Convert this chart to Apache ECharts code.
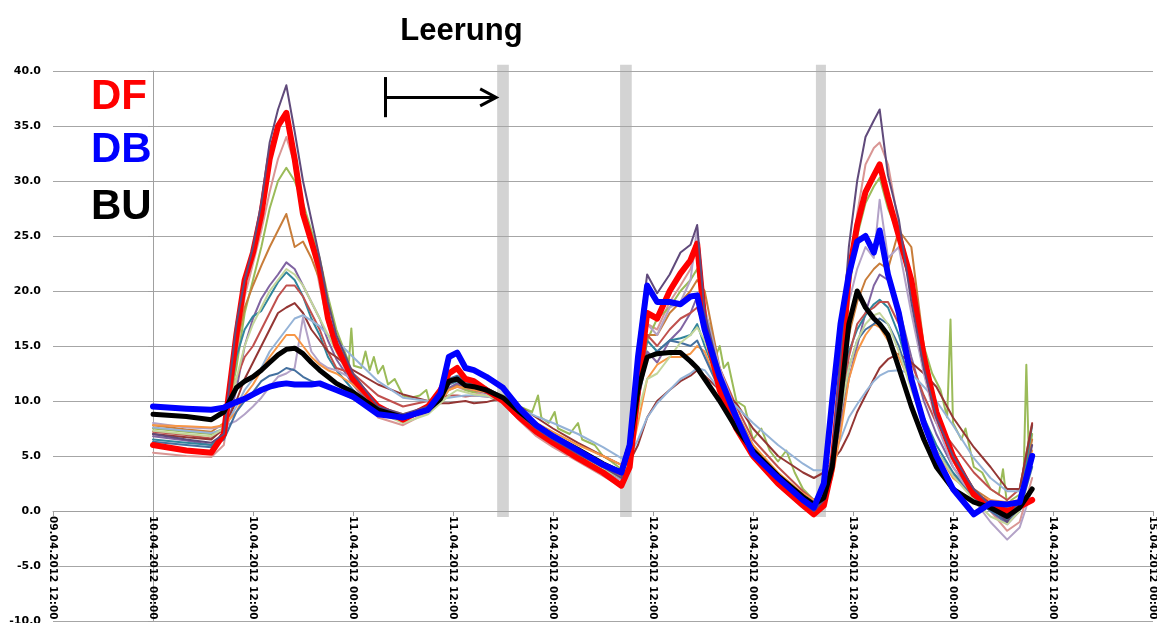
<!DOCTYPE html>
<html><head><meta charset="utf-8">
<script src="https://cdn.jsdelivr.net/npm/echarts@6/dist/echarts.min.js"></script>
<style>html,body{margin:0;padding:0;background:#fff}#c{width:1157px;height:623px}</style>
</head><body><div id="c"></div>
<script>
// x tick labels (every 12 h, starting 09.04.2012 12:00 = -12 h from 10.04.2012 00:00)
const xTickLabels = ['09.04.2012 12:00','10.04.2012 00:00','10.04.2012 12:00','11.04.2012 00:00','11.04.2012 12:00','12.04.2012 00:00','12.04.2012 12:00','13.04.2012 00:00','13.04.2012 12:00','14.04.2012 00:00','14.04.2012 12:00','15.04.2012 00:00'];
// hours since 10.04.2012 00:00
const hours = [0,4,7,8.5,10,11,12,13,14,15,16,17,18,19,20,21,22,24,27,30,33,34.5,35.5,36.5,37.5,38.5,40,42,44,46,48,51,54,56.2,57.2,58.2,59.3,60.5,62,63.3,64.5,65.3,66.2,68,70,72,75,78,79.3,80.5,81.5,82.5,83.5,84.5,85.5,86.5,87.2,88.2,89.5,91,92.5,94,96,98.5,100.5,102.5,104,105.5];

const valDF = [6.0,5.5,5.3,7,16,21,23.5,27,32,35,36.2,32,27,24.5,22,17.5,15,12,9.5,8.3,9.5,11,12.5,13,12,11.8,11,10,8.5,7.2,6.2,4.8,3.5,2.3,4,11,18,17.5,20,21.6,22.8,24.3,17,11,7.5,5,2.5,0.5,-0.3,0.5,4,12,21.5,26,29,30.5,31.5,28.5,25,21,14,9,5,1.5,0.5,0,0.4,1];
const valDB = [9.5,9.3,9.2,9.4,9.9,10.2,10.6,11.0,11.3,11.5,11.6,11.5,11.5,11.5,11.6,11.3,11.0,10.4,8.8,8.5,9.2,10.7,14,14.4,13,12.8,12.2,11.2,9.3,7.8,6.8,5.5,4.2,3.5,6,14,20.5,19,19,18.8,19.5,19.6,16.5,12.2,8.5,5.2,3,1,0.3,2.5,10,17,21.5,24.5,25,23.5,25.5,21.5,18,12,8,5,2,-0.3,0.7,0.6,0.8,5];
const valBU = [8.8,8.6,8.3,9.0,11.2,11.8,12.2,12.8,13.5,14.2,14.7,14.8,14.3,13.5,12.8,12.2,11.6,10.8,9.2,8.5,9.2,10.2,11.8,12,11.4,11.3,11,10.3,9,7.8,6.8,5.6,4.3,3.5,6,11,14,14.3,14.4,14.4,13.6,13,12,10,7.5,5.5,3.2,1.3,0.6,1.2,4,10,17,20,18.5,17.5,17,16,13,9.5,6.5,4,2,0.8,0.3,-0.5,0.3,2];
const valP1 = [7.0,6.5,6.2,7,17,21,24,28,33.5,36.5,38.7,34.5,30,26.5,23,19,16,12.5,9.5,8.8,9.5,10.5,11.5,12,11.5,11.2,11,10.3,8.8,7.5,6.5,5.2,4,3,6,15,21.5,19.8,21.5,23.5,24.2,26,18,12.5,8.5,5.5,3,0.8,0,1,5,14,24,30,34,35.5,36.5,30.5,26.5,19,13,8.5,5,2,0.5,-1,1,6];
const valP2 = [5.3,5.0,4.9,6,14,19.5,22.5,25.5,29,32,34,31.5,27.5,24.5,20.5,17,14.5,11.5,8.5,7.8,9,10.2,11,11.3,11,10.8,10.5,9.8,8.2,6.8,5.8,4.5,3.2,2.2,4,10,17,16.5,19,20.5,22,24,16.5,11.5,7.5,4.8,2.3,0.3,-0.3,0.3,4,12,21,27,31.5,33,33.5,31.5,26,21,14,9,4.5,1.5,0,-1.8,-1,3];
const valO1 = [7.8,7.4,7.2,8,15,18.5,20.5,22.3,24,25.5,27,24,24.5,23,21,18,15.5,12.5,9.2,8.6,9.3,10,11,11.5,11.2,11,10.8,10.2,8.8,7.5,6.6,5.3,4.2,3.3,5,11,16,16,18,19,20,21,20,13,9,6,3.3,1.2,0.5,1,4,10,16,19,21,22,22.5,22,25.5,24,15,9,5,2,1,0.3,1,6.5];
const valPu2 = [6.8,6.4,6.0,6.5,11,15,17.5,19.3,20.5,21.5,22.6,22,20.5,19,17.5,15.5,13.8,11.5,9,8.3,9.2,10,11.2,11.6,11.2,11,10.7,10.2,8.6,7.2,6.2,5,3.8,2.8,4.5,10,14.5,13.5,15.5,16.5,18,19.5,17,12.5,8.5,5.5,3,0.8,0,0.8,3.5,8,12,15,18,20.5,21.5,21,18.5,14,10,7,4,1.5,0,-1.2,0,4.5];
const valTeal = [6.5,6.2,6.0,7,14,16.5,17.7,18.2,19.5,20.8,21.7,21,19.5,17.5,16,14,12.8,11,8.8,8.2,9.2,10.2,11.5,11.8,11.5,11.2,11,10.3,8.8,7.4,6.4,5.2,4,3,5,11,15.5,14.5,15.5,15.7,16,17,15,11.5,8,5.2,3,1,0.3,1.2,5,11,14.5,16.5,17.8,18.8,19.2,18.5,16,12,8.5,6,3.5,1.3,0.2,-0.8,0.5,7.8];
const valDRa = [7.2,6.9,6.6,7.5,12,14,15,16.5,18,19.5,20.5,20.5,19.5,18,16.5,14.5,13,12.5,10.5,9.5,10,10.3,10.5,10.5,10.4,10.5,10.4,10.2,8.5,7.3,6.3,5,3.8,3.2,4.8,10,16,15,16.5,17.5,18,18.5,16.5,13,9.5,6.5,4,1.8,1,1.5,5,9,14,17,18,18.5,19,19,17,13.5,10.5,8,6,3.5,2,1,2,8];
const valDRb = [7.0,6.7,6.5,7.5,10,12,13.5,15,16.5,18,18.5,18.9,18,16.5,15.5,14.5,14,12.8,11.5,10.6,10,9.8,9.8,9.9,10,9.8,9.9,10.3,9.5,8.5,7.5,6.2,5,4.2,4.5,6,8.5,10,11,11.8,12.3,12.8,12.3,11,9.8,7.5,5,3.5,3,3.5,4.5,5.5,7,9,10.5,12,13,13.8,14.3,13.5,12.5,11.3,8.5,5.8,4,2,2,7.9];
const valLB = [7.6,7.3,7.1,7.4,9.5,11,12,13,14.5,15.5,16.5,17.5,17.8,17.3,16.8,16,15.5,14,11.8,10.3,10,10.2,10.3,10.4,10.5,10.5,10.4,10.2,9.3,8.6,8,7,5.8,4.8,5,6.5,8.5,9.8,11,12,12.5,13,12.8,11,9.5,8,6,4.3,3.7,3.7,5,6.5,8.5,9.7,10.8,11.8,12.3,12.7,12.8,12.5,11.3,10,7.8,4.8,3,1.8,1.8,4];
const valLav = [8.0,7.6,7.5,7.7,8.2,8.8,9.5,10.3,11.3,12.2,12.5,13,17.6,14.5,13.5,13,12.8,12,9.5,8.3,9.5,10.2,11.5,12,11.8,11.5,11.2,10.4,8.6,7.2,6.3,5,3.8,2.8,5,12,17,16,18.5,19,21,25.8,18.5,13,9,5.5,3,0.8,0.2,1.5,5,13,19,22,24,23,28.3,23,24,18,12.5,8,4,1,-1,-2.6,-1.5,2];
const valOrange = [7.8,7.7,7.6,7.8,9,10.5,11.5,12.8,14,15,16,16,15,14,13.3,12.8,12.5,11.5,9.5,8.8,9.3,10,11,11.3,11.2,11,10.8,10.3,9,8,7.2,6,5,4.2,4.5,8,12,13.3,14,14,14.3,15,14.5,11,8.5,6,3.5,1.6,1,1.2,3,7,12,14.5,16,17,16.7,15.5,14,11.5,8,5.5,3,1.5,1,0.8,1,5.5];
const valSteel = [6.3,6.0,5.8,6.5,9,10,10.8,11.8,12.3,12.5,13,12.8,12.2,11.8,11.6,11.3,11,10.2,8.8,8.3,9.3,10.5,12,12.3,11.8,11.5,11.2,10.4,8.7,7.3,6.3,5,3.8,3,5,10,14,14.5,15.5,15.3,15,15.5,14,11,8,5.3,3,1,0.3,1,4,9,13,15.5,16.5,17,17.5,17,15,11.5,8,5.5,3.3,1.2,0,-1,0,4];
const valLG = [7.3,7.0,6.8,7.5,12,15,17,18.5,20,21,22,21.5,20.5,19,17.5,16,14.5,12,9,8,8.8,9.8,10.5,11,10.8,10.6,10.5,10,8.5,7.2,6.3,5,3.8,3,4.5,9,12,12.5,14,15.3,16,16.7,15.5,11.5,8.3,5.5,3.2,1.2,0.5,1,4,9,13,15.5,17,17.8,18,17,14.5,11,8,5.5,3.2,1,-0.5,-1.2,0,5];
// green sensor has its own (denser) sampling because of its spikes
const greenHours = [0,4,7,8.5,10,11,12,13,14,15,16,17,18,19,20,21,22,23.5,23.8,24.1,25,25.5,26,26.5,27,27.6,28.2,29,30,31,32,32.8,33.3,34.5,35.5,36.5,37.5,38.5,40,42,44,45.5,46.2,46.6,47.5,48.2,48.6,50,51,51.5,53,54,55,56.2,57.2,58.2,59.3,60.5,62,63.3,64.5,65.3,66.2,67,67.5,68,68.5,69,70,71,72,73,74,75,76,77,78,79.3,80.5,81.5,82.5,83.5,84.5,85.5,86.5,87.2,88.2,89.5,91,92.5,93.5,94.5,95.3,95.7,96,97,97.5,98.5,99.5,100.5,101.5,102,102.5,103,104,104.5,104.8,105.1,105.5];
const greenValues = [7.5,7.2,7.0,7.5,13,18,21,24,27.5,30,31.2,30,28,25.5,23,19.5,16.5,13.5,16.6,13.2,13,14.5,12.8,14,12.5,13.2,11.5,12,10.5,10.3,10.5,11,9.6,10,11,11.5,11,10.8,11,10.5,9.5,9,10.5,8.5,8,9,7.5,7,8,6.5,6,5,4.5,3.8,5,10,15.5,17.5,18.5,20,21,22,18,16.5,14,15,13,13.5,10,9.5,6.5,7.5,5.5,4.5,5.5,3.5,2,1,1.5,5,12,20,25,28,29.5,30.3,27.5,25,20,15,12.5,11,8.5,17.4,8,6.5,7.5,4,3.5,2,1.5,3.8,0.5,1,1.5,4,13.3,5,7];

// grey "Leerung" bands, hours since 10.04.2012 00:00
const bandStart = [41.3, 56.05, 79.55];
const bandEnd = [42.7, 57.45, 80.75];

const Y_MIN = -10, Y_MAX = 40;
const GRID = { left: 53, right: 4, top: 71, bottom: 2 };
const CH = 623;

const thin = [
  ['P2', valP2, '#D99694'],
  ['O1', valO1, '#C87D3A'],
  ['Pu2', valPu2, '#8064A2'],
  ['Teal', valTeal, '#31859C'],
  ['DRa', valDRa, '#C0504D'],
  ['DRb', valDRb, '#943634'],
  ['LB', valLB, '#95B3D7'],
  ['Lav', valLav, '#B3A2C7'],
  ['Orange', valOrange, '#F79646'],
  ['Steel', valSteel, '#44709F'],
  ['LG', valLG, '#C3D69B']
];
const pairs = (hs, vs) => hs.map((h, i) => [h, vs[i]]);
const mk = (name, data, color, width) => ({
  name, type: 'line', data, showSymbol: false, symbol: 'none', smooth: false,
  lineStyle: { color, width, cap: 'round', join: 'round' }, itemStyle: { color },
  animation: false, silent: true
});
const series = [];
thin.forEach(([n, v, c]) => series.push(mk(n, pairs(hours, v), c, 2)));
series.splice(1, 0, mk('G', pairs(greenHours, greenValues), '#9BBB59', 2));
series.push(mk('DF', pairs(hours, valDF), '#FF0000', 6));
series.push(mk('P1', pairs(hours, valP1), '#604A7B', 2));
series.push(mk('BU', pairs(hours, valBU), '#000000', 5));
series.push(mk('DB', pairs(hours, valDB), '#0000FF', 6));

// x axis sits at y = 0: shift it up from the grid bottom by the height of the [-10, 0] span
const gridH = CH - GRID.top - GRID.bottom;
const xOffset = -(0 - Y_MIN) / (Y_MAX - Y_MIN) * gridH;

const labelFont = { fontFamily: 'DejaVu Sans', fontWeight: 'bold', color: '#000' };
const option = {
  animation: false,
  backgroundColor: '#fff',
  grid: Object.assign({ containLabel: false, outerBoundsMode: 'none' }, GRID),
  xAxis: {
    type: 'value', min: -12, max: 120, interval: 12, offset: xOffset,
    axisLine: { show: true, onZero: false, lineStyle: { color: '#A0A0A0', width: 1 } },
    axisTick: { show: true, length: 5, lineStyle: { color: '#A0A0A0' } },
    splitLine: { show: false },
    axisLabel: Object.assign({ rotate: -90, fontSize: 10.5, margin: 5, showMinLabel: true, showMaxLabel: true,
      hideOverlap: false, formatter: v => xTickLabels[Math.round((v + 12) / 12)] || '' }, labelFont)
  },
  yAxis: {
    type: 'value', min: Y_MIN, max: Y_MAX, interval: 5,
    axisLine: { show: true, lineStyle: { color: '#A0A0A0', width: 1 } },
    axisTick: { show: true, length: 5, lineStyle: { color: '#A0A0A0' } },
    splitLine: { show: true, lineStyle: { color: '#A6A6A6', width: 1 } },
    axisLabel: Object.assign({ fontSize: 11, margin: 12, showMinLabel: true, showMaxLabel: true, formatter: v => v.toFixed(1) }, labelFont)
  },
  series
};
const chart = echarts.init(document.getElementById('c'));
chart.setOption(option);

const px = (h, v) => chart.convertToPixel({ gridIndex: 0 }, [h, v]);
const graphics = [];
bandStart.forEach((s, i) => {
  const a = px(s, 40.57), b = px(bandEnd[i], -0.55);
  graphics.push({ type: 'rect', z: -1, silent: true,
    shape: { x: a[0], y: a[1], width: b[0] - a[0], height: b[1] - a[1] },
    style: { fill: '#D3D3D3' } });
});
const aStart = px(27.9, 37.6), aEnd = px(bandStart[0], 37.6);
const barTop = px(27.9, 39.45), barBot = px(27.9, 35.8);
graphics.push({ type: 'line', z: 10, shape: { x1: aStart[0], y1: aStart[1], x2: aEnd[0] - 2, y2: aEnd[1] }, style: { stroke: '#000', lineWidth: 3 } });
graphics.push({ type: 'line', z: 10, shape: { x1: barTop[0], y1: barTop[1], x2: barBot[0], y2: barBot[1] }, style: { stroke: '#000', lineWidth: 3 } });
graphics.push({ type: 'polyline', z: 10, shape: { points: [[aEnd[0] - 17, aEnd[1] - 8.5], [aEnd[0] - 1, aEnd[1]], [aEnd[0] - 17, aEnd[1] + 8.5]] }, style: { stroke: '#000', lineWidth: 3, fill: null, lineJoin: 'miter' } });
graphics.push({ type: 'text', z: 10, x: 461.5, y: 31, style: { text: 'Leerung', font: 'bold 31px "Liberation Sans", Arial, sans-serif', fill: '#000', textAlign: 'center', textVerticalAlign: 'middle' } });
[['DF', '#FF0000', 97.5], ['DB', '#0000FF', 150.5], ['BU', '#000000', 207.5]].forEach(([t, c, y]) => {
  graphics.push({ type: 'text', z: 10, x: 91, y, style: { text: t, font: 'bold 42px "Liberation Sans", Arial, sans-serif', fill: c, textAlign: 'left', textVerticalAlign: 'middle' } });
});
chart.setOption({ graphic: graphics });
</script></body></html>
